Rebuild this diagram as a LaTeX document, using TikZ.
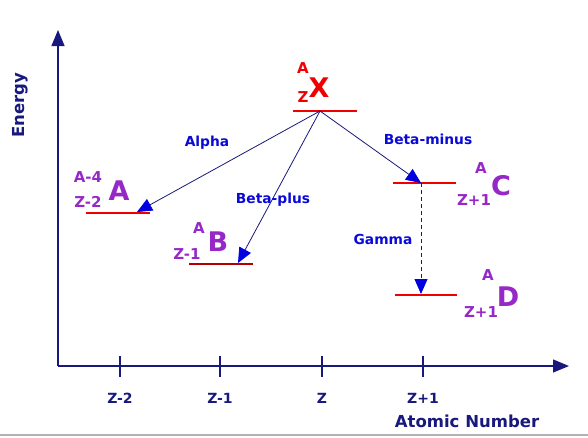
\documentclass[tikz,border=0pt]{standalone}
\usepackage{fontspec}
\setmainfont{DejaVu Sans}
\usetikzlibrary{arrows.meta}
\definecolor{navy}{RGB}{25,25,125}
\definecolor{arrblue}{RGB}{0,0,225}
\definecolor{lblue}{RGB}{10,10,215}
\definecolor{purp}{RGB}{150,40,200}
\definecolor{lvred}{RGB}{240,0,0}
\tikzset{
  axis/.style={draw=navy, line width=1.3pt, -{Triangle[length=16pt,width=13pt]}},
  tick/.style={draw=navy, line width=1.3pt},
  ticklbl/.style={text=navy, font=\bfseries\fontsize{14}{14}\selectfont, inner sep=0pt},
  axlbl/.style={text=navy, font=\bfseries\fontsize{16.5}{16.5}\selectfont, inner sep=0pt},
  level/.style={draw=lvred, line width=2.2pt},
  decay/.style={draw=navy, line width=0.8pt, -{Triangle[length=15pt,width=13pt,fill=arrblue,color=arrblue]}},
  declbl/.style={text=lblue, font=\bfseries\fontsize{13.8}{13.8}\selectfont, inner sep=0pt},
  big/.style={font=\bfseries\fontsize{27}{27}\selectfont, inner sep=0pt},
  small/.style={font=\bfseries\fontsize{15}{15}\selectfont, inner sep=0pt},
}
\begin{document}
\begin{tikzpicture}[x=1pt,y=-1pt]
\useasboundingbox (0,0) rectangle (588,437);
\fill[white] (0,0) rectangle (588,437);
\draw[gray!60, line width=1.5pt] (0,435) -- (588,435);
% axes
\coordinate (origin) at (58,366);
\coordinate (ytop) at (58,30);
\coordinate (xend) at (569,366);
\draw[axis] (origin) -- (ytop);
\draw[axis] (origin) -- (xend);
\node[axlbl, rotate=90] (energy) at (20,105) {Energy};
\node[axlbl] (atomic) at (467,421) {Atomic Number};
% ticks
\foreach \x/\t/\n in {120/Z-2/t1, 220/Z-1/t2, 322/Z/t3, 423/Z+1/t4} {
  \coordinate (\n a) at (\x,356);
  \coordinate (\n b) at (\x,377);
  \draw[tick] (\n a) -- (\n b);
  \node[ticklbl] (\n l) at (\x,398) {\t};
}
% levels
\coordinate (xl) at (293,111); \coordinate (xr) at (357,111); \coordinate (xm) at (320,111);
\coordinate (al) at (86,213);  \coordinate (ar) at (150,213); \coordinate (am) at (137,212);
\coordinate (bl) at (189,264); \coordinate (br) at (253,264); \coordinate (bm) at (238,263);
\coordinate (cl) at (393,183); \coordinate (cr) at (456,183); \coordinate (cm) at (421,183);
\coordinate (dl) at (395,295); \coordinate (dr) at (457,295); \coordinate (dm) at (421,294);
\draw[level] (xl) -- (xr);
\draw[level] (al) -- (ar);
\draw[level, draw=lvred!75!black] (bl) -- (br);
\draw[level] (cl) -- (cr);
\draw[level] (dl) -- (dr);
% nuclide labels
\node[big, text=lvred] (X) at (319,88) {X};
\node[small, text=lvred] (Xa) at (303,68) {A};
\node[small, text=lvred] (Xz) at (303,97) {Z};
\node[big, text=purp] (A) at (119,191) {A};
\node[small, text=purp] (Aa) at (88,177) {A-4};
\node[small, text=purp] (Az) at (88,202) {Z-2};
\node[big, text=purp] (B) at (218,242) {B};
\node[small, text=purp] (Ba) at (199,228) {A};
\node[small, text=purp] (Bz) at (187,254) {Z-1};
\node[big, text=purp] (C) at (501,186) {C};
\node[small, text=purp] (Ca) at (481,168) {A};
\node[small, text=purp] (Cz) at (474,200) {Z+1};
\node[big, text=purp] (D) at (508,297) {D};
\node[small, text=purp] (Da) at (488,275) {A};
\node[small, text=purp] (Dz) at (481,312) {Z+1};
% decays
\draw[decay] (xm) -- (am);
\draw[decay] (xm) -- (bm);
\draw[decay] (xm) -- (cm);
\draw[decay, dash pattern=on 4pt off 3pt] (cm) -- (dm);
\node[declbl] (alpha) at (207,143) {Alpha};
\node[declbl] (bplus) at (273,200) {Beta-plus};
\node[declbl] (bminus) at (428,139) {Beta-minus};
\node[declbl] (gamma) at (383,239) {Gamma};
\end{tikzpicture}
\end{document}
